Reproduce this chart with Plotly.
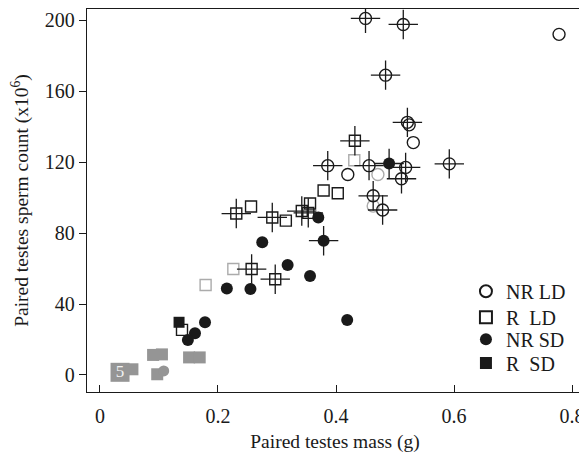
import plotly.graph_objects as go

# ---- data (mass in g, sperm count x10^6) ----
nr_ld_x = [0.778, 0.524, 0.531, 0.420]
nr_ld_y = [192, 141, 131, 113]
nr_ld_cross_x = [0.450, 0.514, 0.484, 0.521, 0.386, 0.456, 0.518, 0.511, 0.592, 0.463, 0.479]
nr_ld_cross_y = [201, 197.6, 169, 142.4, 118, 118, 117, 110.6, 119, 101, 93]
nr_ld_gray_x = [0.471, 0.463]
nr_ld_gray_y = [113, 95.2]

r_ld_x = [0.403, 0.379, 0.256, 0.315, 0.356, 0.139]
r_ld_y = [102.4, 104, 95, 87, 96.7, 25.4]
r_ld_cross_x = [0.432, 0.231, 0.292, 0.342, 0.353, 0.257, 0.297]
r_ld_cross_y = [132, 91, 88.8, 92.4, 91.4, 59.7, 54]
r_ld_gray_x = [0.431, 0.226, 0.179]
r_ld_gray_y = [121, 59.7, 50.7]

nr_sd_x = [0.370, 0.275, 0.318, 0.356, 0.215, 0.255, 0.419, 0.178, 0.161, 0.149]
nr_sd_y = [88.8, 74.8, 62, 55.8, 48.8, 48.4, 31, 29.7, 23.5, 19.7]
nr_sd_cross_x = [0.490, 0.379]
nr_sd_cross_y = [119.2, 75.7]

r_sd_x = [0.134]
r_sd_y = [29.7]

gray_sq_x = [0.090, 0.105, 0.151, 0.169, 0.055, 0.097]
gray_sq_y = [11.3, 11.6, 9.9, 9.9, 3.2, 0.4]
gray_circ_x = [0.108]
gray_circ_y = [2.3]
gray_big_x = [0.034]
gray_big_y = [1.5]
gray_big_label = ["5"]

x_ticks = [0, 0.2, 0.4, 0.6, 0.8]
x_tick_text = ["0", "0.2", "0.4", "0.6", "0.8"]
y_ticks = [0, 40, 80, 120, 160, 200]

legend_names = ["NR LD", "R\u00a0 LD", "NR SD", "R\u00a0 SD"]

BLACK = "#1a1a1a"
LGRAY = "#ababab"
MGRAY = "#959595"
FONT = "Liberation Serif"

fig = go.Figure()

def add(x, y, symbol, color, size=11, lw=1.3, name=None, legend=None):
    fig.add_trace(go.Scatter(
        x=x, y=y, mode="markers", name=name, showlegend=legend is not None,
        legend=legend if legend else "legend",
        marker=dict(symbol=symbol, size=size, color=color,
                    line=dict(color=color, width=lw)),
        hoverinfo="skip"))

# gray near-zero points
add(gray_sq_x, gray_sq_y, "square", MGRAY, size=12, lw=0)
add(gray_circ_x, gray_circ_y, "circle", MGRAY, size=11, lw=0)
fig.add_trace(go.Scatter(
    x=gray_big_x, y=gray_big_y, mode="markers+text", text=gray_big_label,
    textposition="middle center", showlegend=False, hoverinfo="skip",
    textfont=dict(family=FONT, size=17, color="#f2f2f2"),
    marker=dict(symbol="square", size=19, color=MGRAY, line=dict(width=0))))

# gray open points
add(nr_ld_gray_x, nr_ld_gray_y, "circle-open", LGRAY, size=12, lw=1.4)
add(r_ld_gray_x, r_ld_gray_y, "square-open", LGRAY, size=11, lw=1.4)

# main categories (each in its own legend box so rows can sit tightly)
add(nr_ld_x, nr_ld_y, "circle-open", BLACK, size=12, lw=1.4, name=legend_names[0], legend="legend")
add(r_ld_x, r_ld_y, "square-open", BLACK, size=11, lw=1.4, name=legend_names[1], legend="legend2")
add(nr_sd_x, nr_sd_y, "circle", BLACK, size=12, lw=0, name=legend_names[2], legend="legend3")
add(r_sd_x, r_sd_y, "square", BLACK, size=11, lw=0, name=legend_names[3], legend="legend4")

# crosshair points
add(nr_ld_cross_x, nr_ld_cross_y, "circle-open", BLACK, size=12, lw=1.4)
add(r_ld_cross_x, r_ld_cross_y, "square-open", BLACK, size=11, lw=1.4)
add(nr_sd_cross_x, nr_sd_cross_y, "circle", BLACK, size=12, lw=0)
for cx, cy in [(nr_ld_cross_x, nr_ld_cross_y), (r_ld_cross_x, r_ld_cross_y),
               (nr_sd_cross_x, nr_sd_cross_y)]:
    add(cx, cy, "cross-thin-open", BLACK, size=21, lw=1.3)

def leg(y):
    return dict(x=0.764, y=y, xanchor="left", yanchor="middle",
                bgcolor="rgba(0,0,0,0)", font=dict(family=FONT, size=20, color=BLACK),
                itemsizing="constant", itemwidth=30)

fig.update_layout(
    width=579, height=445,
    margin=dict(l=79, r=4, t=1, b=61),
    paper_bgcolor="white", plot_bgcolor="white",
    font=dict(family=FONT, size=20, color=BLACK),
    legend=leg(0.263), legend2=leg(0.195), legend3=leg(0.138), legend4=leg(0.076),
    xaxis=dict(range=[-0.022, 0.8186], tickvals=x_ticks, ticktext=x_tick_text,
               ticks="inside", ticklen=7, tickcolor=BLACK, tickwidth=1.2,
               ticklabelstandoff=6, ticklabeloverflow="allow", automargin=False,
               showline=True, linecolor=BLACK, linewidth=1.3, mirror=True,
               showgrid=False, zeroline=False,
               title=dict(text="Paired testes mass (g)", font=dict(size=19.5), standoff=8)),
    yaxis=dict(range=[-9.6, 206.3], tickvals=y_ticks, automargin=False,
               ticks="outside", ticklen=7, tickcolor=BLACK, tickwidth=1.2,
               showline=True, linecolor=BLACK, linewidth=1.3, mirror=True,
               showgrid=False, zeroline=False,
               title=dict(text="Paired testes sperm count (x10<sup>6</sup>)",
                          font=dict(size=19.5), standoff=16)),
)

fig.write_html("out.html")
